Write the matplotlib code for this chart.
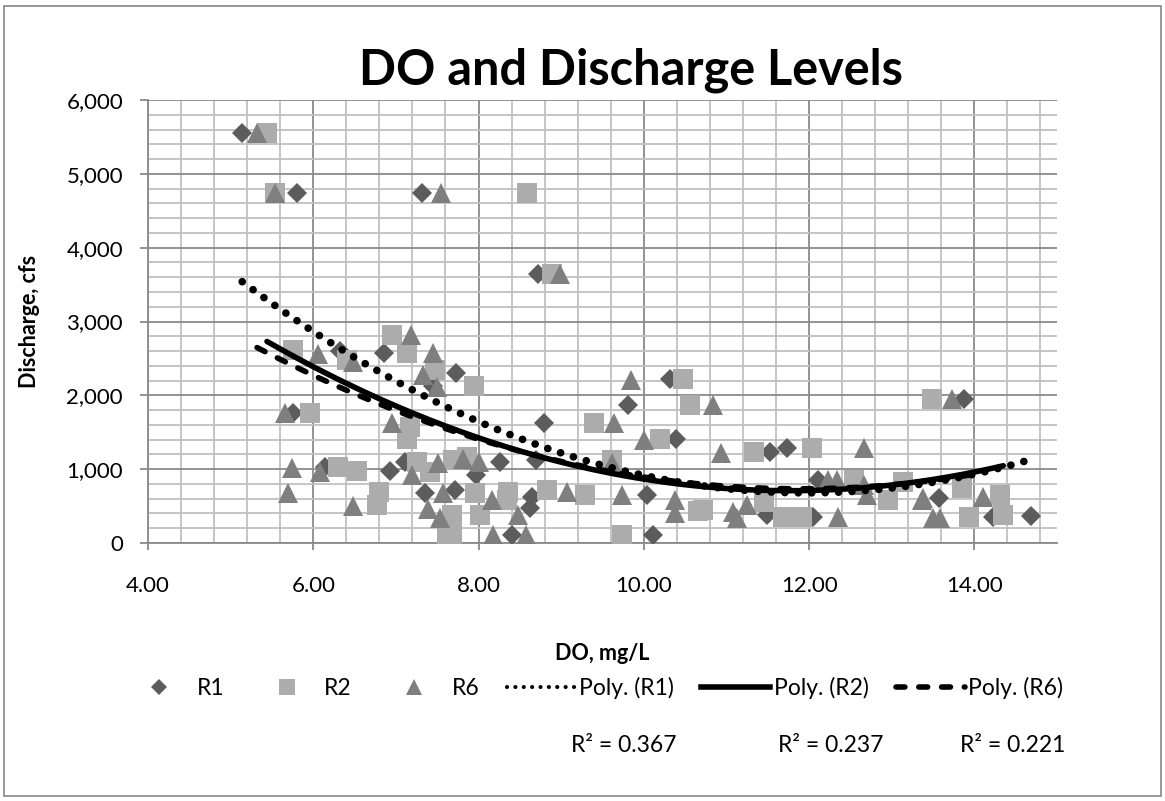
import numpy as np
import matplotlib
matplotlib.use("Agg")
import matplotlib.pyplot as plt
from matplotlib.lines import Line2D
from matplotlib.patches import Rectangle
from matplotlib.ticker import MultipleLocator, FuncFormatter

# ---------------- data ----------------
r1_do = [5.14, 5.80, 7.32, 8.72, 6.32, 6.86, 7.73, 10.32, 7.45, 13.87, 9.81, 5.76,
         8.79, 10.39, 11.73, 11.53, 8.70, 7.11, 8.26, 6.14, 6.93, 12.11, 7.35, 7.72,
         10.04, 13.57, 8.62, 11.49, 12.05, 14.22, 14.68, 8.41, 10.11, 7.97, 8.65]
r1_q = [5555, 4742, 4742, 3645, 2600, 2575, 2300, 2220, 2127, 1951, 1870, 1761,
        1626, 1409, 1287, 1233, 1125, 1098, 1098, 1030, 976, 854, 678, 718,
        650, 610, 474, 379, 352, 352, 366, 108, 108, 921, 623]

r2_do = [5.44, 5.54, 8.59, 8.89, 6.95, 5.76, 7.13, 6.41, 7.47, 10.48, 7.95, 13.49,
         10.56, 5.96, 9.40, 7.17, 10.20, 7.13, 12.04, 11.33, 9.62, 7.69, 7.86, 7.25,
         6.30, 6.53, 7.41, 12.54, 13.14, 13.85, 6.80, 7.96, 8.36, 8.83, 9.29, 14.31,
         8.34, 12.95, 6.77, 11.45, 10.66, 10.72, 7.68, 8.02, 11.69, 11.92, 13.93,
         14.35, 7.62, 7.68, 9.74]
r2_q = [5555, 4742, 4742, 3645, 2818, 2615, 2575, 2480, 2345, 2222, 2127, 1951,
        1870, 1761, 1626, 1572, 1409, 1409, 1287, 1233, 1125, 1125, 1165, 1098,
        1030, 976, 962, 854, 827, 745, 691, 678, 691, 718, 650, 650,
        583, 583, 515, 556, 434, 447, 379, 379, 352, 352, 352,
        379, 108, 108, 108]

r6_do = [5.32, 5.54, 7.55, 8.99, 7.18, 6.06, 7.45, 6.48, 7.33, 9.84, 7.50, 13.73,
         10.84, 5.66, 9.64, 6.95, 10.00, 12.66, 10.93, 9.62, 7.81, 7.51, 8.00, 5.74,
         6.08, 7.20, 12.23, 12.34, 12.66, 5.69, 7.57, 9.07, 9.73, 12.70, 13.38, 14.10,
         8.16, 10.38, 13.37, 6.48, 7.39, 11.25, 11.08, 7.53, 8.48, 10.38, 11.13, 12.35,
         13.50, 13.59, 8.18, 8.58]
r6_q = [5555, 4742, 4742, 3645, 2818, 2560, 2575, 2453, 2276, 2209, 2114, 1951,
        1870, 1761, 1626, 1626, 1396, 1287, 1220, 1084, 1138, 1084, 1098, 1016,
        962, 921, 854, 854, 786, 678, 678, 691, 650, 650, 610, 623,
        583, 583, 583, 501, 461, 515, 420, 339, 379, 407, 339, 352,
        339, 339, 108, 108]

series_names = ["R1", "R2", "R6"]
r_squared = ["0.367", "0.237", "0.221"]
x_ticks = [4, 6, 8, 10, 12, 14]
y_ticks = [0, 1000, 2000, 3000, 4000, 5000, 6000]

# ---------------- figure ----------------
plt.rcParams['font.family'] = ['Lato', 'DejaVu Sans']
W, H = 1165, 801
fig = plt.figure(figsize=(W / 100, H / 100), dpi=100)

# outer chart border
fig.add_artist(Rectangle((4 / W, 1 - 796 / H), (1161 - 4) / W, (796 - 6) / H,
                         transform=fig.transFigure, fill=False,
                         edgecolor='#868686', linewidth=1.2))

L, R, T, B = 148, 1057, 100, 543
ax = fig.add_axes([L / W, 1 - B / H, (R - L) / W, (B - T) / H])
ax.set_xlim(4, 15)
ax.set_ylim(0, 6000)

ax.xaxis.set_minor_locator(MultipleLocator(0.4))
ax.yaxis.set_minor_locator(MultipleLocator(200))
ax.set_xticks(x_ticks)
ax.set_yticks(y_ticks)
ax.xaxis.set_major_formatter(FuncFormatter(lambda v, p: f"{v:.2f}"))
ax.yaxis.set_major_formatter(FuncFormatter(lambda v, p: f"{int(v):,}"))

ax.grid(which='minor', color='#c0c0c0', linewidth=1.3, zorder=0)
ax.grid(which='major', color='#8a8a8a', linewidth=1.3, zorder=0)
ax.set_axisbelow(True)
for s in ['top', 'right']:
    ax.spines[s].set_visible(False)
for s in ['left', 'bottom']:
    ax.spines[s].set_color('#8a8a8a')
    ax.spines[s].set_linewidth(1.3)
ax.tick_params(which='minor', length=0)
ax.tick_params(axis='y', which='major', length=6, width=1.3, color='#8a8a8a',
               pad=12, labelsize=16)
ax.tick_params(axis='x', which='major', length=5, width=1.3, color='#8a8a8a',
               pad=19, labelsize=16)

c1, c2, c6 = '#5c5c5c', '#acacac', '#7f7f7f'
ax.plot(r1_do, r1_q, linestyle='none', marker='D', markersize=10.3, color=c1,
        markeredgewidth=0, zorder=3)
ax.plot(r2_do, r2_q, linestyle='none', marker='s', markersize=14.5, color=c2,
        markeredgewidth=0, zorder=3)
ax.plot(r6_do, r6_q, linestyle='none', marker='^', markersize=15, color=c6,
        markeredgewidth=0, zorder=3)

# polynomial (order 2) trendlines fitted on each series
def trend(xs, ys):
    coef = np.polyfit(xs, ys, 2)
    xx = np.linspace(min(xs), max(xs), 200)
    return xx, np.polyval(coef, xx)

x1, y1 = trend(r1_do, r1_q)
x2, y2 = trend(r2_do, r2_q)
x6, y6 = trend(r6_do, r6_q)
ax.plot(x1, y1, color='black', linewidth=5.5, linestyle=(0, (0.01, 1.75)),
        dash_capstyle='round', zorder=4)
ax.plot(x2, y2, color='black', linewidth=4, linestyle='-',
        solid_capstyle='round', zorder=4)
ax.plot(x6, y6, color='black', linewidth=4, linestyle=(0, (1.6, 2.5)),
        dash_capstyle='round', zorder=4)

fig.text((L + R) / 2 / W + 0.024, 1 - 70 / H, "DO and Discharge Levels",
         ha='center', va='center', fontsize=35, fontweight='bold')
ax.set_xlabel("DO, mg/L", fontsize=15.5, fontweight='bold')
ax.xaxis.set_label_coords(0.5, (B - 643) / (B - T))
ax.set_ylabel("Discharge, cfs", fontsize=15.5, fontweight='bold')
ax.yaxis.set_label_coords((40 - L) / (R - L), 0.5)

handles = [
    Line2D([], [], linestyle='none', marker='D', markersize=8, color=c1, markeredgewidth=0),
    Line2D([], [], linestyle='none', marker='s', markersize=11, color=c2, markeredgewidth=0),
    Line2D([], [], linestyle='none', marker='^', markersize=12, color=c6, markeredgewidth=0),
    Line2D([], [], color='black', linewidth=3, linestyle=(0, (0.01, 2.0)), dash_capstyle='round'),
    Line2D([], [], color='black', linewidth=4, linestyle='-'),
    Line2D([], [], color='black', linewidth=4, linestyle=(0, (1.6, 2.5)), dash_capstyle='round'),
]
labels = series_names + [f"Poly. ({n})" for n in series_names]
fig.legend(handles, labels, loc='center', bbox_to_anchor=(594 / W, 1 - 688 / H),
           ncol=6, frameon=False, fontsize=16.5, handlelength=3.0,
           handletextpad=0.15, columnspacing=1.2)

for cx, r2v in zip([624, 831, 1013], r_squared):
    fig.text(cx / W, 1 - 745 / H, f"R² = {r2v}", ha='center', va='center', fontsize=16.5)

fig.savefig("out.png", dpi=100)
